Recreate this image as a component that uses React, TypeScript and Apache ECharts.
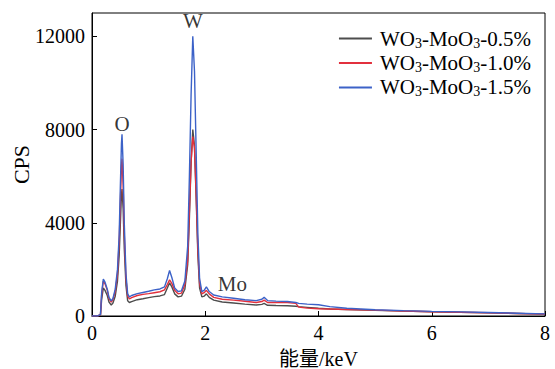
import React, { useEffect, useRef } from "react";
import * as echarts from "echarts";

const energies = [0, 0.1, 0.15, 0.17, 0.2, 0.23, 0.27, 0.3, 0.34, 0.37, 0.41, 0.45, 0.48, 0.5, 0.52, 0.53, 0.55, 0.57, 0.6, 0.63, 0.66, 0.7, 0.8, 0.9, 1.0, 1.1, 1.2, 1.28, 1.33, 1.37, 1.41, 1.46, 1.52, 1.58, 1.64, 1.69, 1.72, 1.75, 1.78, 1.81, 1.84, 1.87, 1.9, 1.94, 1.98, 2.02, 2.07, 2.15, 2.3, 2.5, 2.7, 2.9, 3.0, 3.04, 3.1, 3.25, 3.45, 3.6, 3.65, 3.8, 4.0, 4.2, 4.5, 5.0, 5.5, 6.0, 6.5, 7.0, 7.5, 8.0];

const cps05 = [0, 0, 50, 700, 1200, 1100, 880, 600, 470, 560, 850, 1500, 2600, 3900, 5200, 5450, 4600, 2900, 1300, 650, 580, 620, 700, 740, 790, 830, 860, 920, 1200, 1420, 1250, 950, 820, 850, 1150, 2200, 4200, 6600, 8000, 7300, 5000, 2600, 1200, 820, 850, 950, 800, 680, 600, 560, 510, 470, 500, 540, 460, 450, 440, 420, 400, 370, 330, 300, 280, 240, 210, 180, 160, 135, 110, 80];
const cps10 = [0, 0, 60, 900, 1500, 1380, 1100, 750, 600, 700, 1050, 1800, 3200, 4800, 6400, 6750, 5600, 3500, 1600, 850, 730, 790, 880, 930, 960, 1000, 1040, 1120, 1350, 1550, 1400, 1100, 950, 980, 1350, 2400, 4500, 6600, 7700, 7200, 5200, 2800, 1400, 950, 1000, 1100, 950, 800, 720, 680, 630, 580, 620, 680, 580, 580, 580, 540, 380, 340, 310, 300, 280, 250, 215, 185, 160, 140, 110, 80];
const cps15 = [0, 0, 70, 1000, 1580, 1450, 1150, 800, 650, 750, 1150, 2000, 3500, 5500, 7400, 7800, 6500, 4000, 1800, 950, 820, 880, 960, 1010, 1060, 1120, 1160, 1250, 1600, 1950, 1650, 1200, 1050, 1080, 1500, 3000, 6000, 9500, 12000, 10500, 7000, 3500, 1600, 1050, 1100, 1250, 1050, 900, 820, 760, 700, 660, 720, 800, 660, 640, 620, 580, 540, 510, 480, 400, 330, 270, 230, 200, 175, 150, 120, 90];

const seriesNames = ["WO3-MoO3-0.5%", "WO3-MoO3-1.0%", "WO3-MoO3-1.5%"];
const seriesColors = ["#4d4d4d", "#e2303d", "#3c62c8"];
const seriesValues = [cps05, cps10, cps15];

const peakLabels = ["O", "W", "Mo"];
const peakPositions = [[0.53, 8250], [1.78, 12650], [2.48, 1370]];

const FONT = "'Liberation Serif', 'Times New Roman', 'Noto Sans CJK SC', serif";

export default function App() {
  const ref = useRef<HTMLDivElement>(null);
  useEffect(() => {
    if (!ref.current) return;
    const chart = echarts.init(ref.current, undefined, { renderer: "svg" });
    const series: any[] = seriesNames.map((name, i) => ({
      name,
      type: "line",
      showSymbol: false,
      symbol: "none",
      z: 2 + i,
      lineStyle: { color: seriesColors[i], width: 1.4 },
      itemStyle: { color: seriesColors[i] },
      data: energies.map((e, j) => [e, seriesValues[i][j]]),
    }));
    series.push({
      type: "scatter",
      symbolSize: 0,
      silent: true,
      data: peakPositions.map((p, i) => ({ value: p, name: peakLabels[i] })),
      label: {
        show: true,
        position: "inside",
        formatter: (p: any) => p.name,
        color: "#000",
        fontFamily: FONT,
        fontSize: 21,
      },
    });
    const legendFmt = (name: string) => {
      const pct = name.split("-")[2];
      return `{a|WO}{s|3}{a|-MoO}{s|3}{a|-${pct}}`;
    };
    chart.setOption({
      animation: false,
      textStyle: { fontFamily: FONT },
      grid: { left: 92, right: 10, top: 13, bottom: 53, show: true, borderColor: "#000", borderWidth: 1, containLabel: false, outerBoundsMode: "none" },
      legend: {
        data: seriesNames,
        orient: "vertical",
        right: 24,
        top: 27,
        itemWidth: 33,
        itemHeight: 2,
        itemGap: 1.5,
        icon: "rect",
        padding: 0,
        formatter: legendFmt,
        textStyle: {
          fontFamily: FONT,
          padding: [0, 0, 0, 3],
          rich: {
            a: { fontFamily: FONT, fontSize: 21, color: "#000", lineHeight: 20 },
            s: { fontFamily: FONT, fontSize: 14, color: "#000", lineHeight: 20, padding: [9, 0, 0, 0] },
          },
        },
      },
      xAxis: {
        type: "value",
        min: 0,
        max: 8,
        interval: 2,
        name: "能量/keV",
        nameLocation: "middle",
        nameGap: 33,
        nameMoveOverlap: false,
        nameTextStyle: { fontFamily: FONT, fontSize: 20, color: "#000" },
        axisLine: { lineStyle: { color: "#000", width: 1 } },
        axisTick: { inside: true, length: 5, lineStyle: { color: "#000" } },
        axisLabel: { fontFamily: FONT, fontSize: 20, color: "#000", margin: 7 },
        splitLine: { show: false },
      },
      yAxis: {
        type: "value",
        min: 0,
        max: 13000,
        interval: 4000,
        name: "CPS",
        nameLocation: "middle",
        nameGap: 60,
        nameMoveOverlap: false,
        nameTextStyle: { fontFamily: FONT, fontSize: 22, color: "#000" },
        axisLine: { show: true, lineStyle: { color: "#000", width: 1 } },
        axisTick: { show: true, inside: true, length: 5, lineStyle: { color: "#000" } },
        axisLabel: {
          fontFamily: FONT,
          fontSize: 20,
          color: "#000",
          margin: 7,
          showMaxLabel: false,
          formatter: (v: number) => (v % 4000 === 0 ? String(v) : ""),
        },
        splitLine: { show: false },
      },
      series,
    });
    return () => chart.dispose();
  }, []);
  return <div ref={ref} style={{ width: 555, height: 369, position: "absolute", left: 0, top: 0 }} />;
}
